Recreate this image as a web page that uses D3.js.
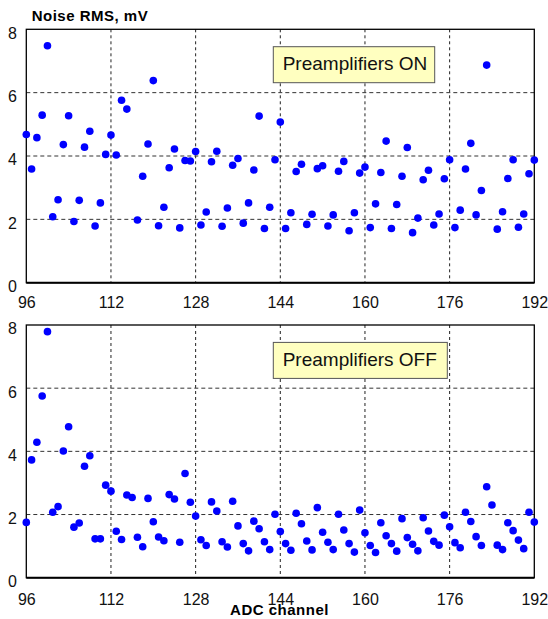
<!DOCTYPE html>
<html>
<head>
<meta charset="utf-8">
<script src="https://cdn.jsdelivr.net/npm/d3@7"></script>
<style>
  html, body { margin: 0; padding: 0; background: #fff; }
  svg { display: block; font-family: "Liberation Sans", Arial, sans-serif; }
</style>
</head>
<body>
<svg id="chart" width="548" height="619"></svg>
<script>
// ADC channels 96..192, one reading per channel
const channels = d3.range(96, 193);

// Noise RMS (mV) with preamplifiers switched on; null = no reading
const noiseOn = [
  4.68, 3.59, 4.58, 5.29, 7.48, 2.08, 2.62, 4.36, 5.27, 1.93, 2.60, 4.28, 4.78, 1.79, 2.52, 4.05,
  4.66, 4.03, 5.76, 5.48, null, 1.98, 3.36, 4.38, 6.38, 1.80, 2.38, 3.63, 4.22, 1.73, 3.86, 3.84,
  4.14, 1.82, 2.23, 3.82, 4.15, 1.78, 2.36, 3.71, 3.92, 1.88, 2.52, 3.56, 5.26, 1.71, 2.38, 3.88,
  5.07, 1.71, 2.21, 3.51, 3.74, 1.84, 2.16, 3.60, 3.69, 1.79, 2.14, 3.52, 3.83, 1.64, 2.21, 3.46,
  3.65, 1.74, 2.49, 3.48, 4.47, 1.71, 2.47, 3.36, 4.27, 1.58, 2.04, 3.25, 3.55, 1.82, 2.17, 3.28,
  3.88, 1.74, 2.29, 3.59, 4.40, 2.14, 2.91, 6.87, null, 1.69, 2.24, 3.29, 3.88, 1.75, 2.17, 3.44,
  3.87
];

// Noise RMS (mV) with preamplifiers switched off
const noiseOff = [
  1.75, 3.73, 4.29, 5.75, 7.79, 2.07, 2.25, 4.01, 4.78, 1.60, 1.73, 3.53, 3.86, 1.23, 1.23, 2.93,
  2.74, 1.47, 1.21, 2.62, 2.54, 1.28, 0.98, 2.51, 1.77, 1.29, 1.17, 2.63, 2.49, 1.12, 3.30, 2.39,
  1.95, 1.20, 1.02, 2.40, 2.11, 1.14, 0.97, 2.42, 1.64, 1.08, 0.85, 1.79, 1.55, 1.14, 0.89, 2.01,
  1.46, 1.08, 0.87, 2.04, 1.71, 1.16, 0.88, 2.22, 1.44, 1.12, 0.89, 2.01, 1.51, 1.08, 0.81, 2.14,
  1.42, 1.02, 0.80, 1.74, 1.33, 1.08, 0.84, 1.87, 1.27, 1.06, 0.85, 1.90, 1.48, 1.15, 1.03, 1.98,
  1.61, 1.11, 0.95, 2.07, 1.78, 1.30, 1.02, 2.88, 2.30, 1.03, 0.89, 1.74, 1.49, 1.19, 0.92, 2.07,
  1.76
];

const xTicks = [96, 112, 128, 144, 160, 176, 192];
const yTicks = [0, 2, 4, 6, 8];
const xGrid = [112, 128, 144, 160, 176];
const yGrid = [2, 4, 6];

const svg = d3.select("#chart");

const x = d3.scaleLinear().domain([96, 192]).range([26.3, 534.3]);

function panel(values, top, bottom, label, labelBoxW, xLabelPad) {
  const y = d3.scaleLinear().domain([0, 8]).range([bottom, top]);
  const g = svg.append("g");

  // dashed grid
  g.append("g").selectAll("line").data(xGrid).join("line")
    .attr("x1", d => x(d)).attr("x2", d => x(d))
    .attr("y1", top).attr("y2", bottom)
    .attr("stroke", "#222").attr("stroke-width", 1)
    .attr("stroke-dasharray", "3,3");
  g.append("g").selectAll("line").data(yGrid).join("line")
    .attr("x1", x.range()[0]).attr("x2", x.range()[1])
    .attr("y1", d => y(d)).attr("y2", d => y(d))
    .attr("stroke", "#333").attr("stroke-width", 1)
    .attr("stroke-dasharray", "4,3");

  // frame
  g.append("rect")
    .attr("x", x.range()[0]).attr("y", top)
    .attr("width", x.range()[1] - x.range()[0]).attr("height", bottom - top)
    .attr("fill", "none").attr("stroke", "#000").attr("stroke-width", 1.3);
  g.append("line")
    .attr("x1", x.range()[0]).attr("x2", x.range()[1])
    .attr("y1", bottom).attr("y2", bottom)
    .attr("stroke", "#000").attr("stroke-width", 2);

  // axes (labels only)
  const ax = g.append("g").attr("transform", `translate(0,${bottom})`)
    .call(d3.axisBottom(x).tickValues(xTicks).tickFormat(d3.format("d"))
      .tickSize(0).tickPadding(xLabelPad));
  const ay = g.append("g").attr("transform", `translate(${x.range()[0] - 9.5},0)`)
    .call(d3.axisLeft(y).tickValues(yTicks).tickSize(0).tickPadding(0));
  ay.selectAll("text").attr("dy", "0.56em");
  [ax, ay].forEach(a => {
    a.select(".domain").remove();
    a.selectAll("text")
      .attr("font-family", "'Liberation Sans', Arial, sans-serif")
      .attr("font-size", 16).attr("fill", "#111");
  });

  // legend box
  const bx = 273.3, by = top + 17.4;
  g.append("rect")
    .attr("x", bx).attr("y", by).attr("width", labelBoxW).attr("height", 36)
    .attr("fill", "#ffffc0").attr("stroke", "#555").attr("stroke-width", 1);
  g.append("text")
    .attr("x", bx + 9.4).attr("y", by + 23.5)
    .attr("font-size", 19).attr("fill", "#111")
    .text(label);

  // markers
  const pts = channels.map((c, i) => ({ c, v: values[i] })).filter(d => d.v != null);
  g.append("g").selectAll("circle").data(pts).join("circle")
    .attr("cx", d => x(d.c)).attr("cy", d => y(d.v))
    .attr("r", 3.8).attr("fill", "#0000ff");
}

panel(noiseOn, 29.3, 282.7, "Preamplifiers ON", 161.4, 14);
panel(noiseOff, 325, 577.7, "Preamplifiers OFF", 174, 15.8);

svg.append("text")
  .attr("x", 31.7).attr("y", 20.5)
  .attr("font-size", 15).attr("font-weight", "bold").attr("letter-spacing", 0.5)
  .text("Noise RMS, mV");

svg.append("text")
  .attr("x", 279.5).attr("y", 615)
  .attr("text-anchor", "middle")
  .attr("font-size", 15).attr("font-weight", "bold").attr("letter-spacing", 0.5)
  .text("ADC channel");
</script>
</body>
</html>
